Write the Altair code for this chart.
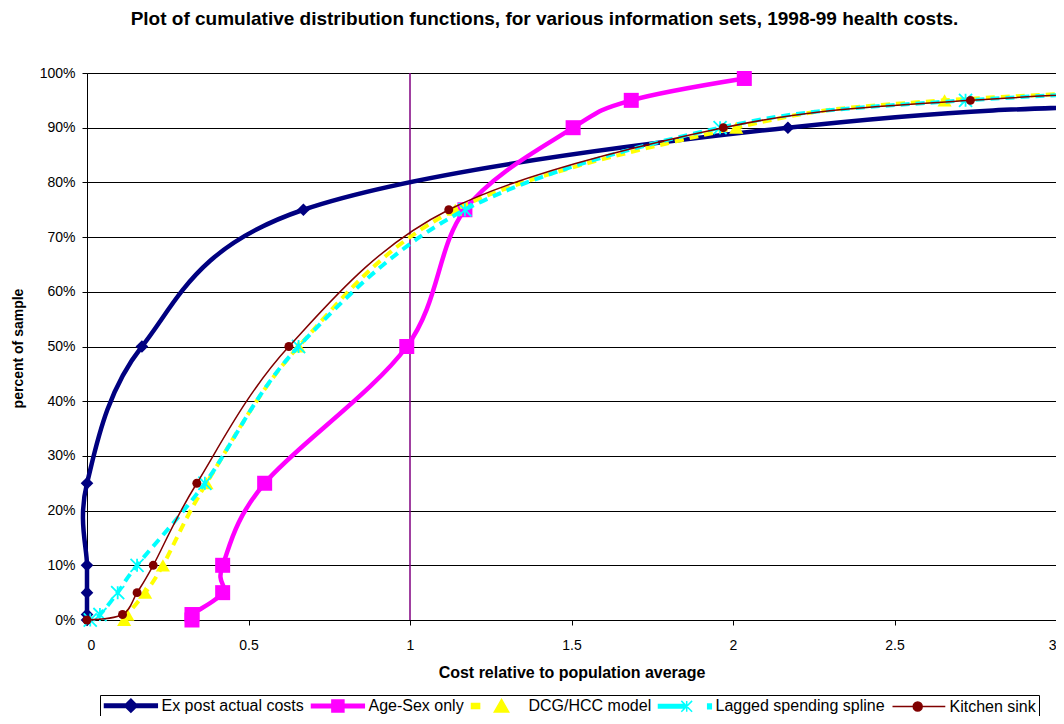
import altair as alt
import pandas as pd

FONT = "Liberation Sans"

# ---------------- data ----------------
series_names = ["Ex post actual costs", "Age-Sex only", "DCG/HCC model",
                "Lagged spending spline", "Kitchen sink"]
series_colors = ["#000080", "#FF00FF", "#FFFF00", "#00FFFF", "#800000"]

pct = [0, 1, 5, 10, 25, 50, 75, 90, 95, 99]          # percent of sample
expost_x = [0.0, 0.0, 0.0, 0.0, 0.0, 0.17, 0.67, 2.17, 3.8, 8.0]
agesex_x = [0.325, 0.325, 0.42, 0.42, 0.55, 0.99, 1.17, 1.505, 1.685, 2.035]
dcg_x = [0.115, 0.125, 0.18, 0.235, 0.37, 0.655, 1.14, 2.01, 2.655, 4.2]
lagged_x = [0.01, 0.04, 0.095, 0.155, 0.365, 0.655, 1.17, 1.96, 2.72, 4.2]
kitchen_x = [0.0, 0.11, 0.155, 0.205, 0.34, 0.625, 1.12, 1.97, 2.735, 4.2]

x_ticks = [0, 0.5, 1, 1.5, 2, 2.5, 3]
y_ticks = [0, 0.1, 0.2, 0.3, 0.4, 0.5, 0.6, 0.7, 0.8, 0.9, 1.0]
ref_x = [1.0]

TITLE = "Plot of cumulative distribution functions, for various information sets, 1998-99 health costs."


def series_df(name, xs):
    return pd.DataFrame({
        "series": name,
        "x": xs,
        "p": [v / 100 for v in pct],
        "order": list(range(len(xs))),
    })


frames = {n: series_df(n, xs) for n, xs in
          zip(series_names, [expost_x, agesex_x, dcg_x, lagged_x, kitchen_x])}
all_df = pd.concat(list(frames.values()), ignore_index=True)

x_scale = alt.Scale(domain=[0, 3], nice=False, zero=False)
y_scale = alt.Scale(domain=[0, 1], nice=False)

x_axis = alt.Axis(values=x_ticks, format="~g", title="Cost relative to population average",
                  grid=False, tickSize=5, labelPadding=13, labelFontSize=14,
                  titleFontSize=16, titleFontWeight="bold", titleY=57,
                  titleBaseline="alphabetic")
y_axis = alt.Axis(values=y_ticks, format=".0%", title="percent of sample",
                  grid=True, gridColor="#000000", gridWidth=1, tickSize=5,
                  labelPadding=7, labelFontSize=14, titleFontSize=14,
                  titleFontWeight="bold", titleX=-69, titleY=275,
                  titleAngle=270, titleBaseline="middle", titleAlign="center")

X = alt.X("x:Q", scale=x_scale, axis=x_axis)
Y = alt.Y("p:Q", scale=y_scale, axis=y_axis)

layers = []

# vertical reference line at x = 1
layers.append(
    alt.Chart(pd.DataFrame({"x": ref_x})).mark_rule(color="#800080", strokeWidth=1.5)
    .encode(x=X)
)

line_styles = {
    "Ex post actual costs": dict(strokeWidth=4.5),
    "Age-Sex only": dict(strokeWidth=4.5),
    "DCG/HCC model": dict(strokeWidth=4, strokeDash=[9, 6]),
    "Lagged spending spline": dict(strokeWidth=4, strokeDash=[9, 6], strokeDashOffset=7),
    "Kitchen sink": dict(strokeWidth=1.5),
}
CROSS = "M-1,-1L1,1M-1,1L1,-1M0,-1L0,1"
point_styles = {
    "Ex post actual costs": dict(shape="diamond", size=160, filled=True),
    "Age-Sex only": dict(shape="square", size=225, filled=True),
    "DCG/HCC model": dict(shape="triangle-up", size=200, filled=True),
    "Lagged spending spline": dict(shape=CROSS, size=170, filled=False, strokeWidth=1.8),
    "Kitchen sink": dict(shape="circle", size=80, filled=True),
}

for name, color in zip(series_names, series_colors):
    layers.append(
        alt.Chart(frames[name]).mark_line(
            color=color, interpolate="cardinal", tension=0, **line_styles[name]
        ).encode(x=X, y=Y, order="order:Q")
    )
    layers.append(
        alt.Chart(frames[name]).transform_filter("datum.x <= 3.01").mark_point(
            color=color, opacity=1, **point_styles[name]
        ).encode(x=X, y=Y)
    )

# legend symbols: line sample + marker (custom paths, unit = 6px)
legend_paths = [
    "M-1,-0.3H7.8V0.3H-1Z M3.4,-1.1L4.5,0L3.4,1.1L2.3,0Z",
    "M-1,-0.3H7.8V0.3H-1Z M2.4,-1H4.4V1H2.4Z",
    "M-1,-0.4H0.35V0.4H-1Z M4,-1.1L5.2,1H2.8Z",
    "M-1,-0.3H3.4V0.3H-1Z M2.8,-0.9L4.6,0.9M2.8,0.9L4.6,-0.9M3.7,-0.9L3.7,0.9 M7.2,-0.4H7.8V0.4H7.2Z",
    "M-1,0H7.8 M2.45,0A0.75,0.75 0 1,1 3.95,0A0.75,0.75 0 1,1 2.45,0Z",
]

legend_def = alt.Legend(
    title=None, orient="none", legendX=13, legendY=622, direction="horizontal",
    columns=5, symbolSize=144, symbolStrokeWidth=1.5, labelOffset=43,
    columnPadding=4, labelFont=FONT, labelFontSize=16, labelColor="black",
    labelLimit=400, strokeColor="black", fillColor="white", padding=2.5,
    symbolOpacity=1,
)
legend_layer = (
    alt.Chart(all_df).transform_filter("datum.x < 0")
    .mark_point(filled=True, size=144, strokeWidth=1.5, opacity=1)
    .encode(
        x=X, y=Y,
        color=alt.Color("series:N", scale=alt.Scale(domain=series_names, range=series_colors),
                        legend=legend_def),
        stroke=alt.Stroke("series:N", scale=alt.Scale(domain=series_names, range=series_colors),
                          legend=legend_def),
        shape=alt.Shape("series:N", scale=alt.Scale(domain=series_names, range=legend_paths),
                        legend=legend_def),
    )
)
layers.append(legend_layer)

chart = (
    alt.layer(*layers)
    .properties(
        width=969, height=547,
        autosize=alt.AutoSizeParams(type="none"),
        padding={"left": 79, "top": 65, "right": 0, "bottom": 96},
        title=alt.TitleParams(TITLE, fontSize=19, fontWeight="bold", font=FONT,
                              anchor="middle", frame="group", dx=-27, offset=22,
                              baseline="alphabetic", color="black"),
    )
    .configure(font=FONT, background="white")
    .configure_view(stroke="#808080", strokeWidth=1)
    .configure_axis(domainColor="black", tickColor="black", labelColor="black",
                    titleColor="black", labelFont=FONT, titleFont=FONT)
)

chart.save("out.html", embed_options={"renderer": "svg", "actions": False})
